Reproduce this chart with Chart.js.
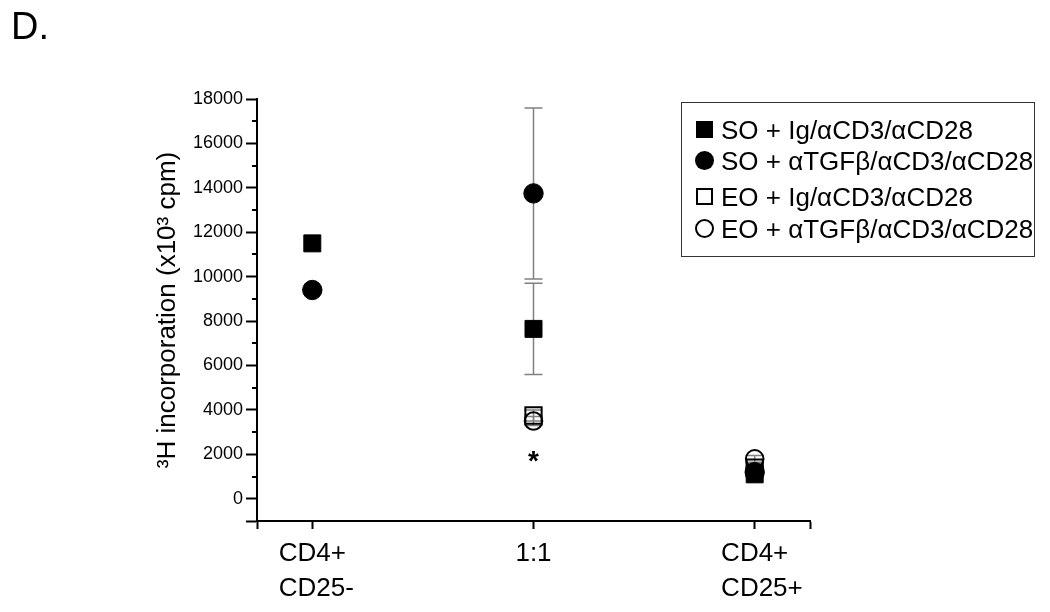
<!DOCTYPE html>
<html>
<head>
<meta charset="utf-8">
<script src="https://cdn.jsdelivr.net/npm/chart.js@4.4.1/dist/chart.umd.min.js"></script>
<style>
  body{ margin:0; background:#fff; font-family: Arial, "Liberation Sans", sans-serif; }
  #wrap{ position:relative; width:1050px; height:612px; }
  #panel{ position:absolute; left:11px; top:5px; font-size:38px; color:#000; }
  #legend{ position:absolute; left:681px; top:102px; width:354px; height:155px; border:1.5px solid #333; box-sizing:border-box; }
  .row{ position:absolute; left:0; height:30px; line-height:30px; font-size:26px; color:#000; white-space:nowrap; }
  .row span.mk{ position:absolute; left:14px; top:6px; width:17px; height:17px; box-sizing:border-box; }
  .row span.tx{ position:absolute; left:39px; top:0; }
</style>
</head>
<body>
<div id="wrap">
  <canvas id="c" width="1050" height="612"></canvas>
  <div id="panel">D.</div>
  <div id="legend"></div>
</div>
<script>
// categories on the x axis (0, 1, 2)
const tickLabels = [['CD4+', 'CD25-'], ['1:1'], ['CD4+', 'CD25+']];
const seriesNames = ['SO + Ig/αCD3/αCD28', 'SO + αTGFβ/αCD3/αCD28', 'EO + Ig/αCD3/αCD28', 'EO + αTGFβ/αCD3/αCD28'];

// means and error bars per category
const soIg      = [11500, 7650, 1100];
const soIgErr   = [0, 2050, 150];
const soTgf     = [9400, 13750, 1200];
const soTgfErr  = [0, 3850, 150];
const eoIg      = [null, 3750, 1400];
const eoIgErr   = [0, 250, 200];
const eoTgf     = [null, 3500, 1800];
const eoTgfErr  = [0, 200, 150];

// significance mark
const starCategory = [1];
const starValue = [1850];
const starText = ['*'];

const yTicksMajor = [-1000, 0, 2000, 4000, 6000, 8000, 10000, 12000, 14000, 16000, 18000];
const yTicksMinor = [1000, 3000, 5000, 7000, 9000, 11000, 13000, 15000, 17000];
const xTicks = [-0.25, 0, 1, 2, 2.25];

const FONT = 'Arial, "Liberation Sans", sans-serif';
Chart.defaults.font.family = FONT;
Chart.defaults.color = '#000';

function pts(vals){
  const out = [];
  vals.forEach((v, i) => { if (v !== null) out.push({ x: i, y: v }); });
  return out;
}

const styles = [
  { pointStyle: 'rect',   radius: 12,  fill: '#000', border: '#000', bw: 1 },
  { pointStyle: 'circle', radius: 9.7, fill: '#000', border: '#000', bw: 1 },
  { pointStyle: 'rect',   radius: 11.5, fill: 'rgba(0,0,0,0)', border: '#000', bw: 2 },
  { pointStyle: 'circle', radius: 8.8, fill: 'rgba(0,0,0,0)', border: '#000', bw: 2 }
];
const values = [soIg, soTgf, eoIg, eoTgf];
const errors = [soIgErr, soTgfErr, eoIgErr, eoTgfErr];

const datasets = values.map((vals, k) => ({
  label: seriesNames[k],
  data: pts(vals),
  errors: errors[k].filter((e, i) => vals[i] !== null),
  pointStyle: styles[k].pointStyle,
  pointRadius: styles[k].radius,
  pointHoverRadius: styles[k].radius,
  backgroundColor: styles[k].fill,
  borderColor: styles[k].border,
  borderWidth: styles[k].bw,
  showLine: false
}));

// error bars, drawn under the markers
const errorBars = {
  id: 'errorBars',
  beforeDatasetsDraw(chart){
    const ctx = chart.ctx, ys = chart.scales.y, xs = chart.scales.x;
    ctx.save();
    ctx.strokeStyle = '#808080';
    ctx.lineWidth = 1.5;
    chart.data.datasets.forEach(ds => {
      ds.data.forEach((p, j) => {
        const e = ds.errors[j];
        if (!e) return;
        const x = xs.getPixelForValue(p.x);
        const y1 = ys.getPixelForValue(p.y + e), y2 = ys.getPixelForValue(p.y - e);
        ctx.beginPath();
        ctx.moveTo(x, y1); ctx.lineTo(x, y2);
        ctx.moveTo(x - 9, y1); ctx.lineTo(x + 9, y1);
        ctx.moveTo(x - 9, y2); ctx.lineTo(x + 9, y2);
        ctx.stroke();
      });
    });
    ctx.restore();
  }
};

// minor y ticks, x category labels (first line centred, second aligned with it) and the asterisk
const extras = {
  id: 'extras',
  afterDraw(chart){
    const ctx = chart.ctx, ys = chart.scales.y, xs = chart.scales.x;
    ctx.save();
    ctx.strokeStyle = '#000';
    ctx.lineWidth = 2;
    const x0 = chart.chartArea.left;
    yTicksMinor.forEach(v => {
      const y = Math.round(ys.getPixelForValue(v));
      ctx.beginPath(); ctx.moveTo(x0 - 5, y); ctx.lineTo(x0, y); ctx.stroke();
    });

    ctx.fillStyle = '#000';
    ctx.font = '26px ' + FONT;
    ctx.textAlign = 'left';
    ctx.textBaseline = 'middle';
    const axisY = chart.chartArea.bottom;
    tickLabels.forEach((lines, i) => {
      const x = xs.getPixelForValue(i);
      const left = x - ctx.measureText(lines[0]).width / 2;
      lines.forEach((t, k) => ctx.fillText(t, left, axisY + 33 + k * 35));
    });

    ctx.font = 'bold 28px ' + FONT;
    ctx.textAlign = 'center';
    starCategory.forEach((c, i) => {
      ctx.fillText(starText[i], xs.getPixelForValue(c), ys.getPixelForValue(starValue[i]) + 5);
    });
    ctx.restore();
  }
};

new Chart(document.getElementById('c'), {
  type: 'scatter',
  data: { datasets },
  options: {
    responsive: false,
    animation: false,
    layout: { padding: { left: 148, top: 99, right: 240, bottom: 0 } },
    plugins: { legend: { display: false }, tooltip: { enabled: false } },
    scales: {
      x: {
        type: 'linear', min: -0.25, max: 2.25,
        afterBuildTicks: s => { s.ticks = xTicks.map(v => ({ value: v })); },
        afterFit: s => { s.height = 91; },
        border: { display: true, color: '#000', width: 2 },
        grid: { drawOnChartArea: false, drawTicks: true, tickLength: 8, tickColor: '#000', tickWidth: 2 },
        ticks: { autoSkip: false, maxRotation: 0, callback: () => '' }
      },
      y: {
        min: -1000, max: 18000,
        afterBuildTicks: s => { s.ticks = yTicksMajor.map(v => ({ value: v })); },
        afterFit: s => { s.width = 257 - 148; },
        border: { display: true, color: '#000', width: 2 },
        grid: { drawOnChartArea: false, drawTicks: true, tickLength: 11, tickColor: '#000', tickWidth: 2 },
        ticks: {
          autoSkip: false, padding: 3,
          font: { size: 18 }, color: '#000',
          callback: v => v < 0 ? '' : String(v)
        },
        title: { display: true, text: '³H incorporation (x10³ cpm)', font: { size: 26 }, color: '#000' }
      }
    }
  },
  plugins: [errorBars, extras]
});

// legend box
const lg = document.getElementById('legend');
const rowCenters = [27, 58, 94, 126];
const mk = [
  'background:#000;',
  'background:#000;border-radius:50%;width:19px;height:19px;left:13px;top:5px;',
  'border:2px solid #000;',
  'border:2px solid #000;border-radius:50%;width:19px;height:19px;left:13px;top:5px;'
];
seriesNames.forEach((n, i) => {
  const r = document.createElement('div');
  r.className = 'row';
  r.style.top = (rowCenters[i] - 15) + 'px';
  r.innerHTML = '<span class="mk" style="' + mk[i] + '"></span><span class="tx"></span>';
  r.querySelector('.tx').textContent = n;
  lg.appendChild(r);
});
</script>
</body>
</html>
